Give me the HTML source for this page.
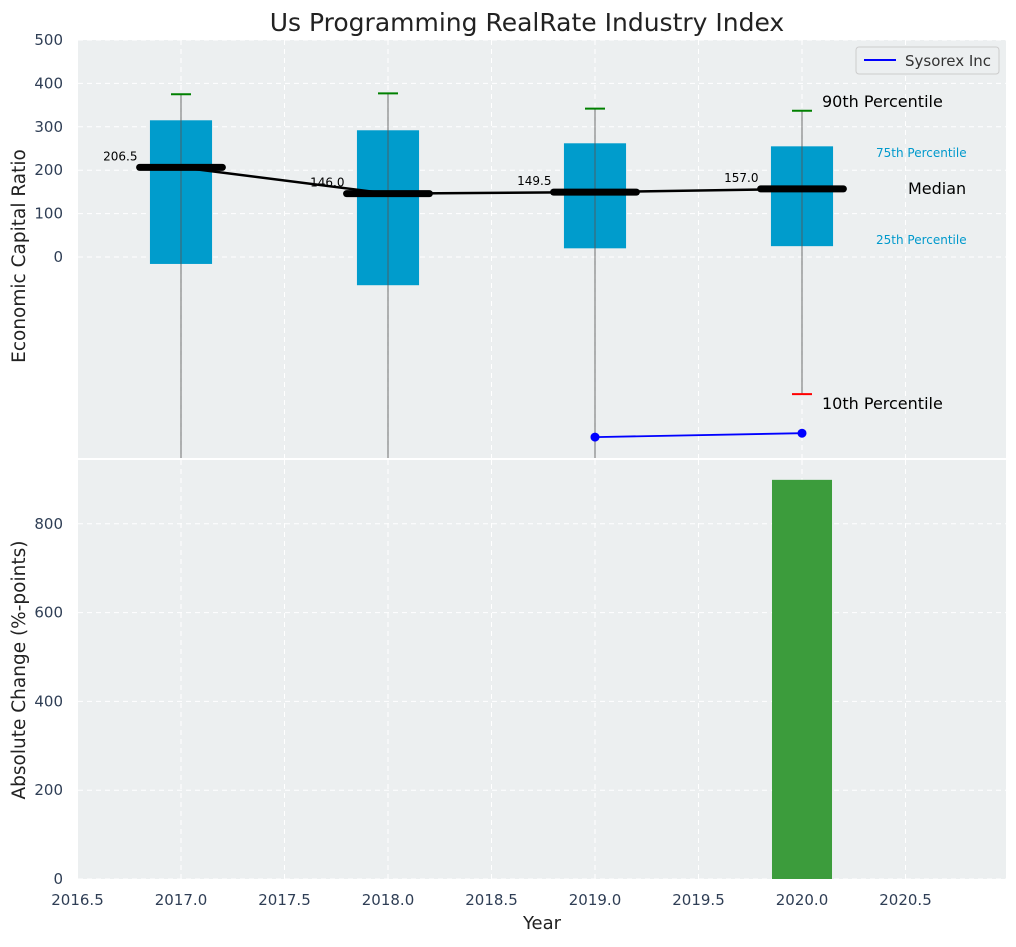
<!DOCTYPE html>
<html><head><meta charset="utf-8"><style>
body{margin:0;background:#fff;font-family:"Liberation Sans","DejaVu Sans",sans-serif;}
svg text{font-family:"DejaVu Sans","Liberation Sans",sans-serif;}
</style></head><body>
<svg id="chart" width="1016" height="942" xmlns="http://www.w3.org/2000/svg">
<text x="527" y="31" font-size="25" text-anchor="middle" fill="#222">Us Programming RealRate Industry Index</text>
<rect x="78" y="40" width="928" height="418" fill="#eceff0"/>
<rect x="78" y="460" width="928" height="419" fill="#eceff0"/>
<g id="grid"></g><g id="marks"></g>
<text x="25" y="256" font-size="18.5" text-anchor="middle" fill="#222" transform="rotate(-90 25 256)">Economic Capital Ratio</text>
<text x="25" y="670" font-size="18.5" text-anchor="middle" fill="#222" transform="rotate(-90 25 670)">Absolute Change (%-points)</text>
<text x="542" y="929" font-size="18" text-anchor="middle" fill="#222">Year</text>
<g>
<rect x="856" y="47" width="143" height="27" rx="3" fill="#eceff0" stroke="#ccc"/>
<line x1="864" y1="60" x2="896" y2="60" stroke="blue" stroke-width="2"/>
<text x="905" y="66" font-size="15" fill="#333">Sysorex Inc</text>
</g>
<text x="822" y="107" font-size="16" fill="#000">90th Percentile</text>
<text x="822" y="409" font-size="16" fill="#000">10th Percentile</text>
<text x="908" y="194" font-size="16" fill="#000">Median</text>
<text x="876" y="157" font-size="12" fill="#0099cc">75th Percentile</text>
<text x="876" y="244" font-size="12" fill="#0099cc">25th Percentile</text>
</svg>
<script>
const years=[2017,2018,2019,2020];
const p90=[375,377,342,337];
const p75=[315,292,262,255];
const medians=[206.5,146.0,149.5,157.0];
const p25=[-16,-65,20,25];
const p10=[-600,-600,-600,-316];
const companyYears=[2019,2020];
const companyValues=[-415,-406];
const changeYears=[2020];
const changeValues=[899];
const xTicks=[2016.5,2017.0,2017.5,2018.0,2018.5,2019.0,2019.5,2020.0,2020.5];
const yTopTicks=[0,100,200,300,400,500];
const yBotTicks=[0,200,400,600,800];

const NS='http://www.w3.org/2000/svg';
const X=v=>77.5+(v-2016.5)*207;
const YT=v=>257-v*0.434;
const YB=v=>879-v*0.444;
const grid=document.getElementById('grid'),marks=document.getElementById('marks');
function mk(p,tag,a){const e=document.createElementNS(NS,tag);for(const k in a)e.setAttribute(k,a[k]);p.appendChild(e);return e;}
const clamp=(v,a,b)=>Math.max(a,Math.min(b,v));
xTicks.forEach(t=>{
 const x=X(t);
 let l=mk(grid,'line',{x1:x,x2:x,y1:40,y2:458,stroke:'#fff','stroke-dasharray':'5,4'});
 
 l=mk(grid,'line',{x1:x,x2:x,y1:460,y2:879,stroke:'#fff','stroke-dasharray':'5,4'});
 
 const tx=mk(grid,'text',{x:x,y:905,'font-size':15,'text-anchor':'middle',fill:'#2f3e55'});
 tx.textContent=t.toFixed(1);
 
});
yTopTicks.forEach(t=>{
 const y=YT(t);
 const l=mk(grid,'line',{x1:78,x2:1006,y1:y,y2:y,stroke:'#fff','stroke-dasharray':'5,4'});
 
 const tx=mk(grid,'text',{x:63,y:y+5,'font-size':15,'text-anchor':'end',fill:'#2f3e55'});
 tx.textContent=t;
 
});
yBotTicks.forEach(t=>{
 const y=YB(t);
 const l=mk(grid,'line',{x1:78,x2:1006,y1:y,y2:y,stroke:'#fff','stroke-dasharray':'5,4'});
 
 const tx=mk(grid,'text',{x:63,y:y+5,'font-size':15,'text-anchor':'end',fill:'#2f3e55'});
 tx.textContent=t;
 
});
years.forEach((yr,i)=>{
 const x=X(yr);
 const b=mk(marks,'rect',{x:X(yr-0.15),width:X(yr+0.15)-X(yr-0.15),y:YT(p75[i]),height:YT(p25[i])-YT(p75[i]),fill:'#009ccc'});
 
 const w=mk(marks,'line',{x1:x,x2:x,y1:YT(p90[i]),y2:clamp(YT(p10[i]),40,458),stroke:'#555','stroke-opacity':0.7,'stroke-width':1.2});
 
 const c=mk(marks,'line',{x1:x-10,x2:x+10,y1:YT(p90[i]),y2:YT(p90[i]),stroke:'green','stroke-width':2});
 
 if(YT(p10[i])<458){
  const c2=mk(marks,'line',{x1:x-10,x2:x+10,y1:YT(p10[i]),y2:YT(p10[i]),stroke:'red','stroke-width':2});
  
 }
});
const mp=mk(marks,'polyline',{points:years.map((y,i)=>X(y)+','+YT(medians[i])).join(' '),fill:'none',stroke:'#000','stroke-width':2.5});

years.forEach((yr,i)=>{
 const y=YT(medians[i]);
 const m=mk(marks,'line',{x1:X(yr-0.2),x2:X(yr+0.2),y1:y,y2:y,stroke:'#000','stroke-width':7,'stroke-linecap':'round'});
 
 const t=mk(marks,'text',{x:X(yr-0.21),y:y-7,'font-size':12,'text-anchor':'end',fill:'#000'});
 t.textContent=medians[i].toFixed(1);
 
});
const cl=mk(marks,'polyline',{points:companyYears.map((y,i)=>X(y)+','+YT(companyValues[i])).join(' '),fill:'none',stroke:'blue','stroke-width':1.8});

companyYears.forEach((yr,i)=>{
 const p=mk(marks,'circle',{cx:X(yr),cy:YT(companyValues[i]),r:4.5,fill:'blue'});
 
});
changeYears.forEach((yr,i)=>{
 const b=mk(marks,'rect',{x:X(yr-0.145),width:X(yr+0.145)-X(yr-0.145),y:YB(changeValues[i]),height:879-YB(changeValues[i]),fill:'#3c9c3c'});
 
});
</script>
</body></html>
